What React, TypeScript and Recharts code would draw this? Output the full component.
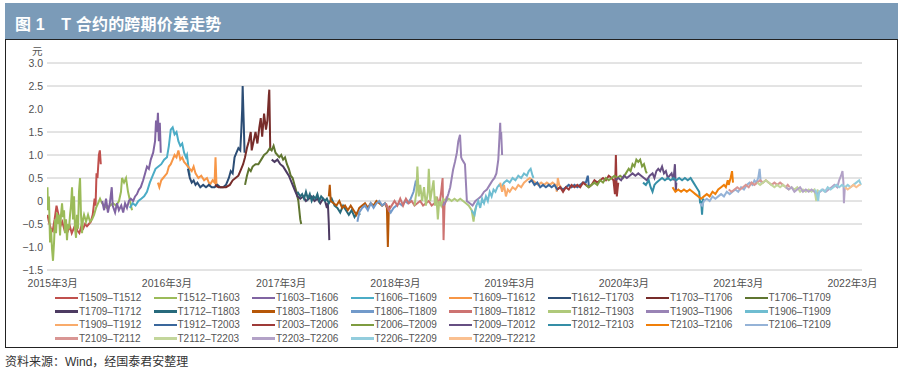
import React from 'react';
import { LineChart, Line, XAxis, YAxis, CartesianGrid } from 'recharts';

// x = months since 2015-03, y = spread (元)
const s1509_1512: [number, number][] = [[-0.55,-0.3],[-0.4,-0.45],[-0.2,-0.6],[0,-0.65],[0.2,-0.4],[0.4,-0.1],[0.6,-0.3],[0.8,-0.55],[1.0,-0.45],[1.2,-0.6],[1.4,-0.5],[1.6,-0.65],[1.8,-0.55],[2.0,-0.7],[2.2,-0.6],[2.4,-0.5],[2.6,-0.65],[2.8,-0.7],[3.0,-0.55],[3.2,-0.6],[3.4,-0.5],[3.6,-0.55],[3.8,-0.5],[4.0,-0.45],[4.2,-0.3],[4.4,0.05],[4.5,-0.1],[4.6,0.6],[4.7,0.5],[4.85,1.0],[4.95,1.1],[5.05,0.8]];
const s1512_1603: [number, number][] = [[-0.55,0.3],[-0.5,-0.2],[-0.4,0.1],[-0.28,-0.9],[-0.18,-0.6],[-0.07,-1.05],[0.03,-1.3],[0.14,-0.9],[0.24,-0.4],[0.35,-0.7],[0.45,-0.25],[0.56,-0.5],[0.66,-0.3],[0.77,-0.75],[0.87,-0.3],[0.98,-0.05],[1.08,-0.35],[1.19,-0.2],[1.29,-0.7],[1.4,-0.4],[1.5,-0.85],[1.61,-0.5],[1.71,-0.6],[1.82,-0.3],[1.92,-0.1],[2.03,0.3],[2.13,-0.4],[2.24,0.1],[2.34,-0.6],[2.45,-0.8],[2.55,-0.3],[2.66,-0.6],[2.76,0.2],[2.87,0.5],[2.97,-0.3],[3.08,-0.7],[3.18,-0.4],[3.29,-0.3],[3.5,-0.45],[3.71,-0.3],[3.92,-0.45],[4.13,-0.4],[4.34,-0.3],[4.55,-0.15],[4.76,-0.05],[4.97,0.05],[5.18,-0.05],[5.39,-0.1],[5.7,-0.15],[6.02,-0.1],[6.33,-0.05],[6.65,-0.1],[6.96,0.0],[7.17,0.2],[7.28,0.5],[7.49,0.4],[7.7,0.5],[7.91,0.2],[8.12,0.0],[8.33,-0.2]];
const s1603_1606: [number, number][] = [[5.2,0.0],[5.4,-0.2],[5.6,0.05],[5.8,-0.25],[6.0,-0.05],[6.2,0.3],[6.3,-0.1],[6.55,-0.25],[6.75,-0.05],[6.95,-0.2],[7.2,-0.1],[7.4,-0.25],[7.6,-0.05],[7.8,-0.15],[8.0,0.0],[8.2,0.05],[8.45,0.0],[8.65,0.1],[8.85,0.15],[9.05,0.25],[9.25,0.3],[9.5,0.45],[9.7,0.6],[9.9,0.75],[10.1,0.7],[10.3,0.9],[10.55,1.05],[10.75,1.3],[10.85,1.75],[10.95,1.5],[11.05,1.92],[11.15,1.3],[11.25,1.7],[11.35,1.05]];
const s1606_1609: [number, number][] = [[8.1,-0.15],[8.4,-0.05],[8.7,-0.1],[9.0,0.0],[9.3,0.05],[9.6,0.1],[9.9,0.2],[10.2,0.4],[10.5,0.55],[10.8,0.7],[11.1,0.75],[11.4,0.8],[11.7,0.9],[12.0,0.95],[12.2,1.2],[12.4,1.55],[12.6,1.6],[12.8,1.45],[13.0,1.5],[13.2,1.3],[13.4,1.2],[13.6,1.25],[13.8,1.05],[14.0,0.95],[14.1,1.0],[14.25,0.75],[14.4,0.55]];
const s1609_1612: [number, number][] = [[11.05,0.4],[11.2,0.3],[11.4,0.45],[11.6,0.5],[11.8,0.55],[12.0,0.6],[12.2,0.75],[12.4,0.8],[12.6,0.9],[12.8,1.0],[13.0,0.95],[13.2,1.1],[13.4,0.9],[13.6,0.95],[13.8,0.85],[14.0,0.8],[14.2,0.75],[14.4,0.7],[14.6,0.65],[14.8,0.75],[15.0,0.6],[15.3,0.5],[15.6,0.55],[15.9,0.45],[16.2,0.5],[16.5,0.35],[16.8,0.45],[17.0,0.4],[17.1,0.95],[17.2,0.35],[17.3,0.3]];
const s1612_1703: [number, number][] = [[14.2,0.7],[14.4,0.5],[14.6,0.4],[14.8,0.45],[15.0,0.35],[15.2,0.4],[15.5,0.3],[15.8,0.35],[16.1,0.3],[16.4,0.35],[16.7,0.3],[17.0,0.3],[17.3,0.35],[17.6,0.3],[17.9,0.3],[18.2,0.35],[18.5,0.5],[18.7,0.65],[18.9,0.6],[19.1,0.95],[19.3,1.05],[19.5,1.15],[19.7,1.1],[19.8,1.5],[19.9,2.0],[19.95,2.5],[20.05,1.8],[20.15,1.05]];
const s1703_1706: [number, number][] = [[17.05,0.35],[17.4,0.3],[17.8,0.3],[18.2,0.3],[18.6,0.35],[18.9,0.45],[19.2,0.5],[19.5,0.55],[19.8,0.7],[20.0,0.8],[20.2,0.95],[20.4,1.15],[20.6,1.3],[20.8,1.5],[20.9,1.1],[21.1,1.3],[21.3,1.5],[21.5,1.25],[21.7,1.6],[21.85,1.8],[22.0,1.4],[22.2,1.9],[22.4,1.55],[22.55,1.75],[22.7,2.3],[22.75,2.42],[22.85,1.1]];
const s1706_1709: [number, number][] = [[20.2,0.35],[20.4,0.55],[20.6,0.7],[20.8,0.65],[21.0,0.75],[21.3,0.8],[21.6,0.8],[21.9,0.9],[22.2,1.0],[22.5,1.05],[22.8,1.15],[23.0,1.1],[23.2,1.2],[23.4,1.05],[23.6,1.0],[23.8,0.95],[24.0,1.0],[24.2,0.9],[24.4,0.95],[24.6,0.8],[24.8,0.7],[25.0,0.55],[25.2,0.5],[25.4,0.35],[25.6,0.2],[25.8,0.0],[26.0,-0.4],[26.1,-0.5]];
const s1709_1712: [number, number][] = [[23.0,0.9],[23.3,0.85],[23.6,0.9],[23.9,0.8],[24.2,0.75],[24.5,0.65],[24.8,0.55],[25.1,0.4],[25.4,0.25],[25.7,0.1],[26.0,0.05],[26.3,0.1],[26.6,0.0],[26.9,0.05],[27.2,0.1],[27.5,0.0],[27.8,0.05],[28.1,-0.05],[28.4,0.05],[28.6,0.0],[28.8,-0.15],[28.9,-0.05],[29.0,-0.5],[29.05,-0.85]];
const s1712_1803: [number, number][] = [[25.7,0.2],[26.0,0.1],[26.2,0.15],[26.4,0.05],[26.6,0.2],[26.8,0.05],[27.0,0.15],[27.2,0.0],[27.4,0.1],[27.6,0.05],[27.8,0.15],[28.0,0.0],[28.2,0.1],[28.4,0.05],[28.6,0.0],[28.8,0.05],[29.0,-0.05],[29.3,0.05],[29.6,-0.1],[29.9,-0.15],[30.2,-0.25],[30.5,-0.1],[30.8,-0.2],[31.1,-0.3],[31.4,-0.2],[31.7,-0.35],[32.0,-0.25],[32.3,-0.3]];
const s1803_1806: [number, number][] = [[29.0,0.1],[29.1,0.35],[29.2,0.0],[29.5,-0.05],[29.8,-0.1],[30.1,0.0],[30.4,-0.15],[30.7,-0.1],[31.0,-0.2],[31.3,-0.1],[31.6,-0.2],[31.9,-0.3],[32.2,-0.15],[32.5,-0.1],[32.8,-0.05],[33.1,-0.15],[33.4,-0.05],[33.7,-0.1],[34.0,0.0],[34.3,-0.05],[34.6,-0.1],[34.9,-0.05],[35.1,-0.15],[35.2,-1.0],[35.3,-0.2],[35.4,-0.1]];
const s1806_1809: [number, number][] = [[32.0,-0.45],[32.2,-0.25],[32.5,-0.15],[32.8,-0.1],[33.1,-0.2],[33.4,-0.05],[33.7,-0.15],[34.0,-0.05],[34.3,0.0],[34.6,-0.1],[34.9,-0.05],[35.2,-0.15],[35.5,-0.25],[35.8,-0.15],[36.1,-0.1],[36.4,-0.05],[36.7,-0.1],[37.0,0.0],[37.3,-0.05],[37.6,0.05],[37.9,0.2],[38.1,0.4],[38.3,0.3],[38.4,0.25]];
const s1809_1812: [number, number][] = [[35.0,-0.05],[35.3,-0.2],[35.6,-0.1],[35.9,0.0],[36.2,-0.1],[36.5,0.05],[36.8,-0.1],[37.1,0.05],[37.4,-0.05],[37.7,0.0],[38.0,-0.1],[38.3,-0.05],[38.6,0.0],[38.9,-0.1],[39.2,-0.05],[39.5,0.0],[39.8,-0.1],[40.1,-0.05],[40.4,0.05],[40.6,-0.1],[40.8,0.2],[40.95,0.5],[41.05,-0.85],[41.15,-0.1],[41.4,0.1]];
const s1812_1903: [number, number][] = [[38.0,-0.1],[38.2,0.2],[38.3,0.75],[38.45,0.1],[38.6,0.35],[38.8,0.0],[39.0,0.3],[39.2,-0.1],[39.4,0.2],[39.5,0.7],[39.65,0.0],[39.8,0.2],[40.0,0.45],[40.15,-0.1],[40.3,0.1],[40.45,-0.4],[40.6,0.0],[40.8,-0.1],[41.0,0.05],[41.3,0.0],[41.6,0.05],[41.9,0.0],[42.2,0.05],[42.5,0.0],[42.8,0.05],[43.1,0.0],[43.4,-0.05],[43.7,-0.1],[44.0,-0.2],[44.2,-0.45],[44.35,-0.2],[44.5,-0.1]];
const s1903_1906: [number, number][] = [[41.0,-0.1],[41.3,0.0],[41.55,0.15],[41.75,0.3],[42.05,0.68],[42.25,0.85],[42.45,1.05],[42.6,1.3],[42.78,1.44],[42.9,0.95],[43.0,0.9],[43.15,0.85],[43.3,0.8],[43.5,0.0],[43.8,-0.05],[44.1,-0.1],[44.4,0.0],[44.7,0.05],[45.0,0.1],[45.3,0.2],[45.6,0.25],[45.9,0.35],[46.2,0.45],[46.4,0.5],[46.6,0.6],[46.8,0.9],[46.9,1.3],[47.0,1.7],[47.05,1.35],[47.1,1.5],[47.2,1.0]];
const s1906_1909: [number, number][] = [[44.0,-0.2],[44.3,-0.3],[44.5,-0.1],[44.7,0.0],[44.9,-0.15],[45.1,0.05],[45.3,-0.05],[45.5,0.1],[45.7,0.0],[45.9,0.2],[46.1,0.1],[46.3,0.25],[46.5,0.2],[46.7,0.3],[46.9,0.35],[47.1,0.3],[47.4,0.4],[47.7,0.45],[48.0,0.4],[48.3,0.5],[48.6,0.45],[48.9,0.55],[49.2,0.5],[49.5,0.6],[49.8,0.55],[50.0,0.65],[50.2,0.7],[50.4,0.55],[50.5,0.5]];
const s1909_1912: [number, number][] = [[47.0,0.4],[47.2,0.2],[47.4,0.35],[47.6,0.1],[47.8,0.25],[48.0,0.2],[48.3,0.3],[48.6,0.25],[48.9,0.35],[49.2,0.3],[49.5,0.4],[49.8,0.45],[50.1,0.5],[50.4,0.45],[50.7,0.4],[51.0,0.35],[51.3,0.4],[51.6,0.35],[51.9,0.4],[52.2,0.35],[52.5,0.4],[52.8,0.35],[52.95,0.2],[53.05,0.5],[53.2,0.35],[53.4,0.3]];
const s1912_2003: [number, number][] = [[50.0,0.4],[50.3,0.45],[50.6,0.35],[50.9,0.4],[51.2,0.3],[51.5,0.35],[51.8,0.3],[52.1,0.35],[52.4,0.3],[52.7,0.35],[53.0,0.25],[53.3,0.3],[53.6,0.25],[53.9,0.3],[54.2,0.35],[54.5,0.3],[54.8,0.35],[55.1,0.3],[55.4,0.35],[55.7,0.4],[56.0,0.4],[56.2,0.55],[56.3,0.35],[56.4,0.3]];
const s2003_2006: [number, number][] = [[53.0,0.25],[53.3,0.3],[53.6,0.2],[53.9,0.3],[54.2,0.25],[54.5,0.35],[54.8,0.3],[55.1,0.35],[55.4,0.3],[55.7,0.4],[56.0,0.35],[56.3,0.3],[56.6,0.35],[56.9,0.45],[57.2,0.4],[57.5,0.45],[57.8,0.5],[58.1,0.45],[58.4,0.55],[58.7,0.5],[58.9,0.45],[59.05,0.15],[59.15,1.0],[59.25,0.1],[59.4,0.4]];
const s2006_2009: [number, number][] = [[56.0,0.35],[56.3,0.3],[56.6,0.35],[56.9,0.4],[57.2,0.35],[57.5,0.45],[57.8,0.4],[58.1,0.5],[58.4,0.45],[58.7,0.5],[59.0,0.55],[59.3,0.5],[59.6,0.55],[59.9,0.5],[60.2,0.6],[60.5,0.7],[60.7,0.65],[60.9,0.8],[61.1,0.75],[61.3,0.9],[61.5,0.85],[61.7,0.9],[61.9,0.75],[62.1,0.8],[62.3,0.65],[62.4,0.6]];
const s2009_2012: [number, number][] = [[59.1,0.45],[59.4,0.5],[59.7,0.45],[60.0,0.55],[60.3,0.5],[60.6,0.55],[60.9,0.6],[61.2,0.55],[61.5,0.6],[61.8,0.55],[62.1,0.5],[62.4,0.45],[62.7,0.55],[63.0,0.6],[63.2,0.5],[63.4,0.65],[63.6,0.7],[63.8,0.65],[64.0,0.75],[64.2,0.6],[64.4,0.65],[64.6,0.5],[64.8,0.55],[65.0,0.6],[65.2,0.45],[65.35,0.8],[65.45,0.2],[65.5,0.4]];
const s2012_2103: [number, number][] = [[62.0,0.4],[62.3,0.35],[62.6,0.45],[62.8,0.3],[63.0,0.2],[63.2,0.35],[63.4,0.4],[63.7,0.45],[64.0,0.5],[64.3,0.45],[64.6,0.5],[64.9,0.45],[65.2,0.5],[65.5,0.45],[65.8,0.5],[66.1,0.45],[66.4,0.5],[66.7,0.45],[67.0,0.5],[67.3,0.4],[67.6,0.3],[67.9,0.2],[68.0,-0.05],[68.1,0.0],[68.2,-0.3],[68.3,0.05],[68.4,0.0]];
const s2103_2106: [number, number][] = [[65.1,0.3],[65.4,0.2],[65.7,0.25],[66.0,0.2],[66.3,0.25],[66.6,0.2],[66.9,0.25],[67.2,0.2],[67.5,0.15],[67.8,0.1],[68.1,0.05],[68.4,0.1],[68.7,0.15],[69.0,0.1],[69.3,0.2],[69.6,0.15],[69.9,0.25],[70.2,0.3],[70.5,0.35],[70.7,0.3],[70.9,0.45],[71.0,0.35],[71.2,0.5],[71.35,0.65],[71.45,0.4]];
const s2106_2109: [number, number][] = [[68.0,-0.05],[68.2,-0.1],[68.4,0.0],[68.7,0.05],[69.0,0.0],[69.3,0.1],[69.6,0.05],[69.9,0.1],[70.2,0.15],[70.5,0.1],[70.8,0.2],[71.1,0.15],[71.4,0.2],[71.7,0.25],[72.0,0.2],[72.3,0.3],[72.6,0.25],[72.9,0.35],[73.2,0.4],[73.5,0.35],[73.7,0.45],[73.9,0.4],[74.1,0.5],[74.25,0.7],[74.35,0.45],[74.4,0.4]];
const s2109_2112: [number, number][] = [[71.0,0.25],[71.3,0.2],[71.6,0.25],[71.9,0.3],[72.2,0.25],[72.5,0.3],[72.8,0.35],[73.1,0.3],[73.4,0.4],[73.7,0.35],[74.0,0.4],[74.3,0.45],[74.6,0.4],[74.9,0.45],[75.2,0.4],[75.5,0.35],[75.8,0.4],[76.1,0.35],[76.4,0.4],[76.7,0.35],[77.0,0.3],[77.2,0.35],[77.4,0.3]];
const s2112_2203: [number, number][] = [[74.0,0.4],[74.3,0.35],[74.6,0.4],[74.9,0.45],[75.2,0.4],[75.5,0.35],[75.8,0.3],[76.1,0.35],[76.4,0.3],[76.7,0.35],[77.0,0.3],[77.3,0.25],[77.6,0.3],[77.9,0.25],[78.2,0.3],[78.5,0.2],[78.8,0.25],[79.1,0.2],[79.4,0.25],[79.7,0.2],[80.0,0.25],[80.2,0.0],[80.3,0.2],[80.4,0.25]];
const s2203_2206: [number, number][] = [[77.0,0.3],[77.3,0.25],[77.6,0.3],[77.9,0.2],[78.2,0.25],[78.5,0.3],[78.8,0.2],[79.1,0.25],[79.4,0.2],[79.7,0.25],[80.0,0.2],[80.3,0.15],[80.6,0.2],[80.9,0.25],[81.2,0.2],[81.5,0.25],[81.8,0.3],[82.1,0.35],[82.4,0.3],[82.6,0.45],[82.8,0.55],[82.95,0.65],[83.05,0.4],[83.1,-0.05],[83.2,0.3],[83.4,0.3]];
const s2206_2209: [number, number][] = [[80.1,0.25],[80.3,0.1],[80.4,0.0],[80.5,0.2],[80.8,0.25],[81.1,0.2],[81.4,0.3],[81.7,0.25],[82.0,0.3],[82.3,0.35],[82.6,0.3],[82.9,0.35],[83.2,0.3],[83.5,0.35],[83.8,0.3],[84.1,0.35],[84.4,0.4],[84.7,0.45],[84.9,0.35]];
const s2209_2212: [number, number][] = [[83.2,0.3],[83.5,0.25],[83.8,0.3],[84.1,0.35],[84.4,0.3],[84.7,0.35],[84.85,0.35]];

const seriesNames = [
  'T1509–T1512', 'T1512–T1603', 'T1603–T1606', 'T1606–T1609', 'T1609–T1612', 'T1612–T1703', 'T1703–T1706', 'T1706–T1709',
  'T1709–T1712', 'T1712–T1803', 'T1803–T1806', 'T1806–T1809', 'T1809–T1812', 'T1812–T1903', 'T1903–T1906', 'T1906–T1909',
  'T1909–T1912', 'T1912–T2003', 'T2003–T2006', 'T2006–T2009', 'T2009–T2012', 'T2012–T2103', 'T2103–T2106', 'T2106–T2109',
  'T2109–T2112', 'T2112–T2203', 'T2203–T2206', 'T2206–T2209', 'T2209–T2212',
];
const seriesValues = [
  s1509_1512, s1512_1603, s1603_1606, s1606_1609, s1609_1612, s1612_1703, s1703_1706, s1706_1709,
  s1709_1712, s1712_1803, s1803_1806, s1806_1809, s1809_1812, s1812_1903, s1903_1906, s1906_1909,
  s1909_1912, s1912_2003, s2003_2006, s2006_2009, s2009_2012, s2012_2103, s2103_2106, s2106_2109,
  s2109_2112, s2112_2203, s2203_2206, s2206_2209, s2209_2212,
];
const seriesColors = [
  '#C0504D', '#9BBB59', '#8064A2', '#4BACC6', '#F79646', '#2C4D75', '#772C2A', '#5F7530',
  '#4D3B62', '#276A7C', '#B65708', '#729ACA', '#CD7371', '#AFC97A', '#9983B5', '#6FBDD1',
  '#F9AB6B', '#3A679C', '#9E3A38', '#7E9C40', '#664F82', '#358EA6', '#F07F09', '#95B3D7',
  '#D99694', '#C3D69B', '#B3A2C7', '#93CDDD', '#FAC090',
];
const yTicks = [-1.5, -1, -0.5, 0, 0.5, 1, 1.5, 2, 2.5, 3];
const xTicks = [0, 12, 24, 36, 48, 60, 72, 84];

const FONT = '"Liberation Sans", Arial, "Noto Sans CJK SC", sans-serif';

export default function App() {
  const lines = seriesValues.map(pts => pts.map(([x, y]) => ({ x, y })));

  return (
    <div style={{ position: 'absolute', left: 0, top: 0, width: 902, height: 372, background: '#fff', fontFamily: FONT, overflow: 'hidden' }}>
      <div style={{ position: 'absolute', left: 5, top: 3, width: 893, height: 36, background: '#7b9bb8' }}>
        <span style={{ position: 'absolute', left: 10, top: 8, color: '#fff', fontSize: 16, fontWeight: 700, letterSpacing: 0.2 }}>
          图 1　T 合约的跨期价差走势
        </span>
      </div>
      <div style={{ position: 'absolute', left: 5, top: 39, width: 891, height: 307, border: '1px solid #222' }} />
      <div style={{ position: 'absolute', left: 32, top: 43, fontSize: 10.5, color: '#555' }}>元</div>

      <div style={{ position: 'absolute', left: 0, top: 40 }}>
        <LineChart width={902} height={250} margin={{ top: 23, right: 40, bottom: 0, left: 0 }}>
          <CartesianGrid vertical={false} stroke="#c8c8c8" />
          <XAxis
            type="number"
            dataKey="x"
            domain={[-0.6, 85]}
            ticks={xTicks}
            allowDataOverflow
            axisLine={false}
            tickLine={false}
            height={20}
            tickMargin={4}
            tick={{ fontSize: 10.5, fill: '#505050', fontFamily: FONT }}
            tickFormatter={(v: number) => `${2015 + v / 12}年3月`}
          />
          <YAxis
            type="number"
            domain={[-1.5, 3]}
            ticks={yTicks}
            width={47}
            axisLine={false}
            tickLine={false}
            tickSize={4}
            tickMargin={0}
            tick={{ fontSize: 10.5, fill: '#505050', fontFamily: FONT }}
            tickFormatter={(v: number) => (v === 0 ? '0' : v.toFixed(1).replace('-', '−'))}
          />
          {lines.map((d, i) => (
            <Line
              key={seriesNames[i]}
              data={d}
              dataKey="y"
              name={seriesNames[i]}
              type="linear"
              stroke={seriesColors[i]}
              strokeWidth={2}
              dot={false}
              activeDot={false}
              isAnimationActive={false}
            />
          ))}
        </LineChart>
      </div>

      <div style={{ position: 'absolute', left: 55, top: 291, display: 'grid', gridTemplateColumns: 'repeat(8, 98.5px)', gridAutoRows: '13.5px' }}>
        {seriesNames.map((n, i) => (
          <div key={n} style={{ display: 'flex', alignItems: 'center', fontSize: 10, color: '#555', whiteSpace: 'nowrap' }}>
            <span style={{ display: 'inline-block', width: 23, height: 2.5, background: seriesColors[i], marginRight: 1 }} />
            {n}
          </div>
        ))}
      </div>

      <div style={{ position: 'absolute', left: 5, top: 352, fontSize: 12, color: '#333' }}>资料来源：Wind，经国泰君安整理</div>
    </div>
  );
}
